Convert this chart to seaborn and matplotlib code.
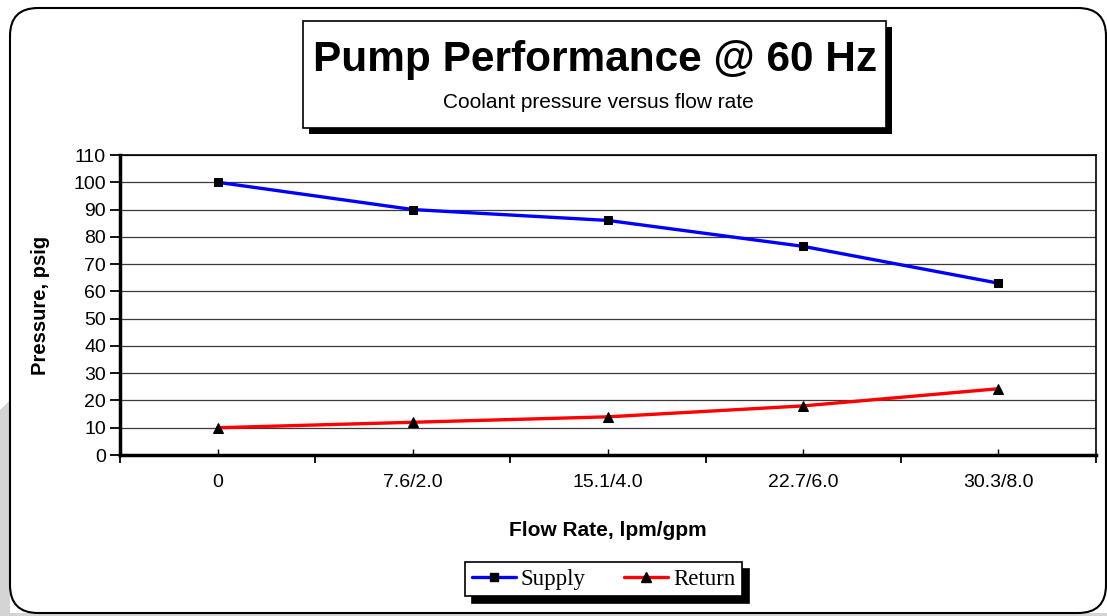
import numpy as np
import pandas as pd
import matplotlib
matplotlib.use("Agg")
import matplotlib.pyplot as plt
import seaborn as sns
from matplotlib.patches import FancyBboxPatch, Rectangle, Polygon
from matplotlib.lines import Line2D
from matplotlib.transforms import IdentityTransform

#------------------------------------------------------------------------------
# data
#------------------------------------------------------------------------------
flow_labels = ['0', '7.6/2.0', '15.1/4.0', '22.7/6.0', '30.3/8.0']
supply = [100, 90, 86, 76.5, 63]
return_ = [10, 12, 14, 18, 24.3]
y_ticks = list(range(0, 111, 10))

df = pd.DataFrame({'pos': np.arange(len(flow_labels)),
                   'Supply': supply,
                   'Return': return_})

#------------------------------------------------------------------------------
sns.set_style("white")
plt.rcParams['font.family'] = ['Liberation Sans', 'DejaVu Sans']
plt.rcParams['text.color'] = 'black'
plt.rcParams['axes.labelcolor'] = 'black'
plt.rcParams['xtick.color'] = 'black'
plt.rcParams['ytick.color'] = 'black'

W, H = 1107, 616
fig = plt.figure(figsize=(W / 100, H / 100), dpi=100)

# background decorations in pixel coords (origin bottom-left)
px = IdentityTransform()
fig.patches.append(Polygon([[0, 0], [0, 206], [10, 216], [10, 0]], closed=True,
                           facecolor='#d4d4d4', edgecolor='none', transform=px, zorder=0))
fig.patches.append(Rectangle((0, 0), W, 3, facecolor='#d4d4d4', edgecolor='none',
                             transform=px, zorder=0))
fig.patches.append(FancyBboxPatch((38, 31), 1106 - 28 - 38, 608 - 28 - 31,
                                  boxstyle="round,pad=28", facecolor='white',
                                  edgecolor='black', linewidth=1.5, transform=px, zorder=1))

# title box with shadow
fig.patches.append(Rectangle((309, H - 134), 583, 107, facecolor='black',
                             edgecolor='none', transform=px, zorder=2))
fig.patches.append(Rectangle((303, H - 128), 583, 107, facecolor='white',
                             edgecolor='black', linewidth=1.2, transform=px, zorder=3))
fig.text(595 / W, 1 - 60 / H, 'Pump Performance @ 60 Hz', ha='center', va='center',
         fontsize=30.5, fontweight='bold', zorder=4)
fig.text(598 / W, 1 - 102 / H, 'Coolant pressure versus flow rate', ha='center',
         va='center', fontsize=15, zorder=4)

#------------------------------------------------------------------------------
ax = fig.add_axes([120 / W, (H - 455) / H, 976 / W, 300 / H])
ax.set_zorder(5)
ax.patch.set_alpha(0)

for y in y_ticks[1:]:
    ax.axhline(y, color='#3a3a3a', linewidth=0.9, zorder=1)

sns.lineplot(data=df, x='pos', y='Supply', color='#0000ff', linewidth=2.4,
             marker='s', markersize=6, markerfacecolor='black',
             markeredgecolor='black', ax=ax, zorder=3)
sns.lineplot(data=df, x='pos', y='Return', color='#ff0000', linewidth=2.4,
             marker='^', markersize=7, markerfacecolor='black',
             markeredgecolor='black', ax=ax, zorder=3)

ax.set_xlim(-0.5, len(flow_labels) - 0.5)
ax.set_ylim(0, 110)
ax.set_yticks(y_ticks)
ax.set_yticklabels([str(v) for v in y_ticks], fontsize=14)

# major ticks between categories, labels at centres
ax.set_xticks(np.arange(len(flow_labels) + 1) - 0.5)
ax.set_xticklabels([''] * (len(flow_labels) + 1))
ax.set_xticks(np.arange(len(flow_labels)), minor=True)
ax.set_xticklabels(flow_labels, minor=True, fontsize=14)
ax.tick_params(axis='x', which='major', bottom=True, direction='out', length=6,
               width=1.3, color='black')
ax.tick_params(axis='x', which='minor', bottom=True, direction='in', length=4,
               width=1, color='black', pad=14)
ax.tick_params(axis='y', left=True, direction='out', length=7, width=1.3,
               color='black', pad=3)

for s in ['left', 'bottom']:
    ax.spines[s].set_linewidth(2.5)
    ax.spines[s].set_color('black')
for s in ['top', 'right']:
    ax.spines[s].set_linewidth(1.2)
    ax.spines[s].set_color('black')

ax.set_xlabel('Flow Rate, lpm/gpm', fontsize=15, fontweight='bold', labelpad=21)
ax.set_ylabel('Pressure, psig', fontsize=14.5, fontweight='bold', labelpad=17)

#------------------------------------------------------------------------------
# legend
handles = [Line2D([], [], color='#0000ff', lw=2.4, marker='s', markersize=6,
                  markerfacecolor='black', markeredgecolor='black'),
           Line2D([], [], color='#ff0000', lw=2.4, marker='^', markersize=7,
                  markerfacecolor='black', markeredgecolor='black')]
leg = fig.legend(handles, ['Supply', 'Return'], loc='center',
                 bbox_to_anchor=(603.5 / W, 1 - 579 / H), ncol=2,
                 prop={'family': 'Liberation Serif', 'size': 16.5},
                 frameon=True, fancybox=False, edgecolor='black',
                 handlelength=1.95, handletextpad=0.2, columnspacing=1.65,
                 borderpad=0.3, borderaxespad=0,
                 shadow={'color': 'black', 'alpha': 1, 'ox': 5, 'oy': -5})
leg.get_frame().set_linewidth(1.2)

fig.savefig('out.png', dpi=100)
